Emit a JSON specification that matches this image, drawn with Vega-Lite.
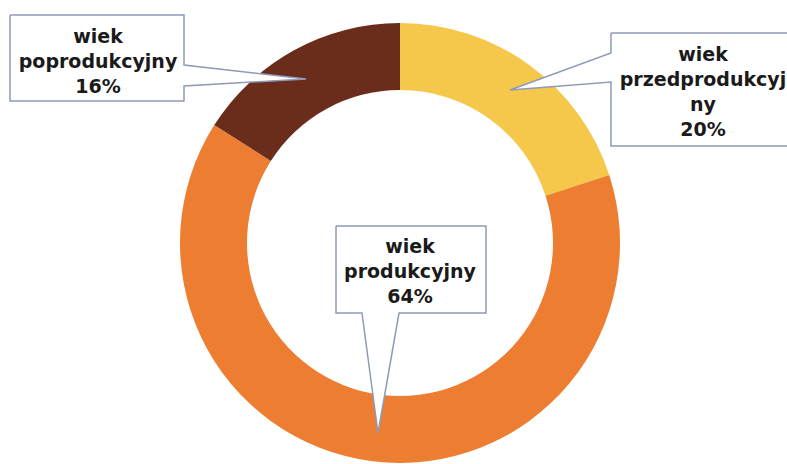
{
  "$schema": "https://vega.github.io/schema/vega-lite/v6.json",
  "width": 774,
  "height": 442,
  "autosize": {"type": "none"},
  "padding": {"left": 13, "top": 22, "right": 0, "bottom": 0},
  "background": "white",
  "config": {"view": {"stroke": null}},
  "datasets": {
    "slices": [
      {"kat": "wiek przedprodukcyjny", "val": 20, "o": 1},
      {"kat": "wiek produkcyjny", "val": 64, "o": 2},
      {"kat": "wiek poprodukcyjny", "val": 16, "o": 3}
    ],
    "callouts": [
      {"id": "a", "i": 0, "x": -390, "y": 228},
      {"id": "a", "i": 1, "x": -216, "y": 228},
      {"id": "a", "i": 2, "x": -216, "y": 178},
      {"id": "a", "i": 3, "x": -94, "y": 164},
      {"id": "a", "i": 4, "x": -216, "y": 157},
      {"id": "a", "i": 5, "x": -216, "y": 142},
      {"id": "a", "i": 6, "x": -390, "y": 142},
      {"id": "a", "i": 7, "x": -390, "y": 228},
      {"id": "b", "i": 0, "x": 211, "y": 210},
      {"id": "b", "i": 1, "x": 395, "y": 210},
      {"id": "b", "i": 2, "x": 395, "y": 97},
      {"id": "b", "i": 3, "x": 211, "y": 97},
      {"id": "b", "i": 4, "x": 211, "y": 161},
      {"id": "b", "i": 5, "x": 110, "y": 153},
      {"id": "b", "i": 6, "x": 211, "y": 190},
      {"id": "b", "i": 7, "x": 211, "y": 210},
      {"id": "c", "i": 0, "x": -64, "y": 17},
      {"id": "c", "i": 1, "x": 86, "y": 17},
      {"id": "c", "i": 2, "x": 86, "y": -70},
      {"id": "c", "i": 3, "x": -1, "y": -70},
      {"id": "c", "i": 4, "x": -22, "y": -190},
      {"id": "c", "i": 5, "x": -38, "y": -70},
      {"id": "c", "i": 6, "x": -64, "y": -70},
      {"id": "c", "i": 7, "x": -64, "y": 17}
    ],
    "labels": [
      {"t": "wiek\npoprodukcyjny\n16%", "x": -302, "y": 206},
      {"t": "wiek\nprzedprodukcyj\nny\n20%", "x": 303, "y": 188},
      {"t": "wiek\nprodukcyjny\n64%", "x": 10, "y": -4}
    ]
  },
  "layer": [
    {
      "data": {"name": "slices"},
      "mark": {"type": "arc", "innerRadius": 153, "outerRadius": 220},
      "encoding": {
        "theta": {"field": "val", "type": "quantitative", "stack": true},
        "order": {"field": "o", "type": "quantitative"},
        "color": {
          "field": "kat",
          "type": "nominal",
          "legend": null,
          "scale": {
            "domain": ["wiek przedprodukcyjny", "wiek produkcyjny", "wiek poprodukcyjny"],
            "range": ["#F5C84B", "#ED7D31", "#6B2D1B"]
          }
        }
      }
    },
    {
      "data": {"name": "callouts"},
      "mark": {"type": "line", "fill": "white", "stroke": "#8E9AB8", "strokeWidth": 1.5, "interpolate": "linear"},
      "encoding": {
        "x": {"field": "x", "type": "quantitative", "axis": null, "scale": {"domain": [-387, 387], "nice": false, "zero": false}},
        "y": {"field": "y", "type": "quantitative", "axis": null, "scale": {"domain": [-221, 221], "nice": false, "zero": false}},
        "detail": {"field": "id"},
        "order": {"field": "i", "type": "quantitative"}
      }
    },
    {
      "data": {"name": "labels"},
      "mark": {"type": "text", "font": "DejaVu Sans", "fontWeight": "bold", "fontSize": 19, "lineBreak": "\n", "lineHeight": 25, "align": "center", "baseline": "middle", "color": "#1a1a1a"},
      "encoding": {
        "x": {"field": "x", "type": "quantitative"},
        "y": {"field": "y", "type": "quantitative"},
        "text": {"field": "t"}
      }
    }
  ]
}
